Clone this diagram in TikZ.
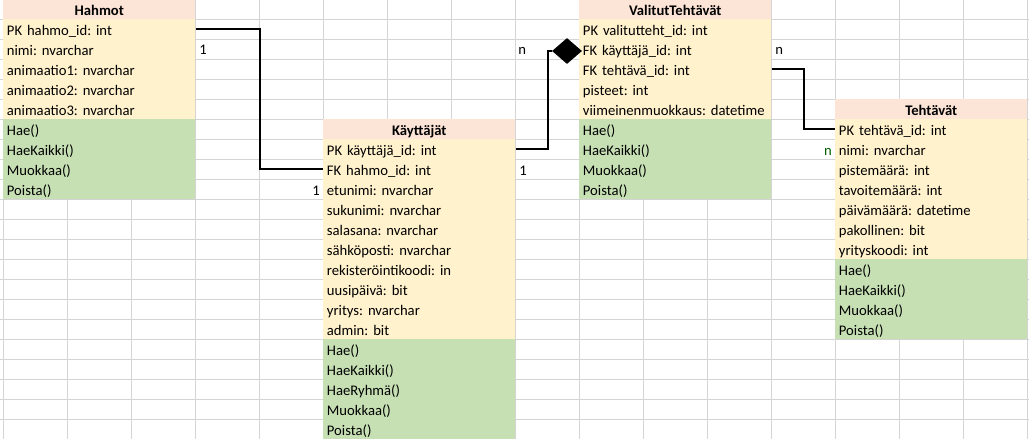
\documentclass[tikz,border=0pt]{standalone}
\usepackage{fontspec}
\setmainfont{Carlito}
\usepackage{tikz}
\usetikzlibrary{positioning,calc,shapes.geometric}
\definecolor{headc}{HTML}{FCE4D6}
\definecolor{fieldc}{HTML}{FFF2CC}
\definecolor{methc}{HTML}{C6E0B4}
\definecolor{gridc}{HTML}{D4D4D4}
\definecolor{goodc}{HTML}{006100}
\frenchspacing

\begin{document}
\begin{tikzpicture}[x=0.75pt, y=-0.75pt, font=\fontsize{11pt}{13pt}\selectfont,
  row/.style={anchor=north west, minimum width=144pt, text width=138.5pt, inner xsep=2.75pt,
    inner ysep=0pt, text height=12pt, text depth=3pt, align=left},
  head/.style={row, fill=headc, align=center, font=\fontsize{11pt}{13pt}\selectfont\bfseries},
  field/.style={row, fill=fieldc},
  meth/.style={row, fill=methc},
  card/.style={inner sep=0pt},
  link/.style={line width=1.5pt, black}]
  \useasboundingbox (0,0) rectangle (1029,439);
  % sheet grid
  \foreach \j in {0,...,16}
     \draw[gridc, line width=0.75pt] ({3+64*\j},0) -- ({3+64*\j},439);
  \foreach \k in {1,...,22}
     \draw[gridc, line width=0.75pt] (0,{20*\k-1}) -- (1029,{20*\k-1});

  % Hahmot
  \node[head] (hah0) at (3,-1) {Hahmot};
  \foreach \t [count=\i] in {PK hahmo\_id: int, nimi: nvarchar, animaatio1: nvarchar,
     animaatio2: nvarchar, animaatio3: nvarchar}
     \node[field] (hah\i) at (3,{20*\i-1}) {\t};
  \foreach \t [count=\i] in {Hae(), HaeKaikki(), Muokkaa(), Poista()}
     \node[meth] (hahm\i) at (3,{20*(\i+5)-1}) {\t};

  % Käyttäjät
  \node[head] (kay0) at (323,119) {Käyttäjät};
  \foreach \t [count=\i] in {PK käyttäjä\_id: int, FK hahmo\_id: int, etunimi: nvarchar,
     sukunimi: nvarchar, salasana: nvarchar, sähköposti: nvarchar, rekisteröintikoodi: in,
     uusipäivä: bit, yritys: nvarchar, admin: bit}
     \node[field] (kay\i) at (323,{20*(\i+6)-1}) {\t};
  \foreach \t [count=\i] in {Hae(), HaeKaikki(), HaeRyhmä(), Muokkaa(), Poista()}
     \node[meth] (kaym\i) at (323,{20*(\i+16)-1}) {\t};

  % ValitutTehtävät
  \node[head] (val0) at (579,-1) {ValitutTehtävät};
  \foreach \t [count=\i] in {PK valitutteht\_id: int, FK käyttäjä\_id: int, FK tehtävä\_id: int,
     pisteet: int, viimeinenmuokkaus: datetime}
     \node[field] (val\i) at (579,{20*\i-1}) {\t};
  \foreach \t [count=\i] in {Hae(), HaeKaikki(), Muokkaa(), Poista()}
     \node[meth] (valm\i) at (579,{20*(\i+5)-1}) {\t};

  % Tehtävät
  \node[head] (teh0) at (835,99) {Tehtävät};
  \foreach \t [count=\i] in {PK tehtävä\_id: int, nimi: nvarchar, pistemäärä: int,
     tavoitemäärä: int, päivämäärä: datetime, pakollinen: bit, yrityskoodi: int}
     \node[field] (teh\i) at (835,{20*(\i+5)-1}) {\t};
  \foreach \t [count=\i] in {Hae(), HaeKaikki(), Muokkaa(), Poista()}
     \node[meth] (tehm\i) at (835,{20*(\i+12)-1}) {\t};

  % relations
  \node[shape=diamond, fill=black, inner sep=0pt, minimum width=22.5pt, minimum height=19.5pt]
     (dia) at (567,51) {};
  \draw[link] (hah1.east) -- ++(64,0) |- (kay2.west);
  \draw[link] (kay1.east) -- ++(32,0) |- (dia.west);
  \draw[link] (val3.east) -- ++(32,0) |- (teh1.west);

  \node[card, anchor=base west] (c1) at (199,55) {1};
  \node[card, anchor=base east] (c2) at (320,195) {1};
  \node[card, anchor=base west] (c3) at (518,55) {n};
  \node[card, anchor=base west] (c4) at (519,175) {1};
  \node[card, anchor=base west] (c5) at (775,55) {n};
  \node[card, anchor=base east, text=goodc] (c6) at (832,155) {n};
\end{tikzpicture}
\end{document}
